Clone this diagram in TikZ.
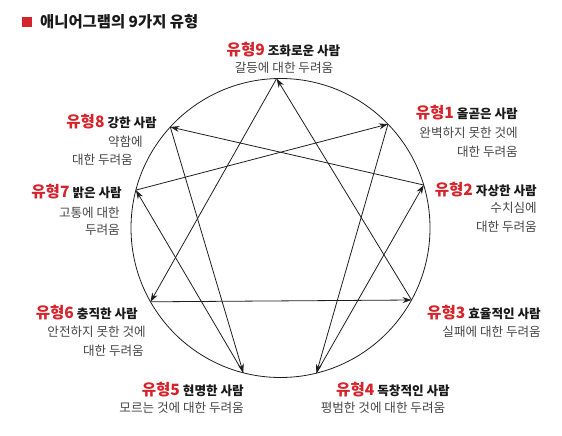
\documentclass[tikz,border=0pt]{standalone}
\usepackage{fontspec}
\setmainfont{Noto Sans CJK KR}
\usetikzlibrary{arrows.meta}

\definecolor{typered}{RGB}{214,36,44}
\definecolor{feargray}{RGB}{70,70,70}
\definecolor{linegray}{RGB}{30,30,30}
\newcommand{\typeno}[2]{{\fontsize{15.6}{18}\selectfont\color{typered}유형#1}\hspace{3pt}#2}

\begin{document}
\begin{tikzpicture}[x=1pt,y=-1pt,
        head/.style={inner sep=0pt,font=\fontsize{12.6}{14}\selectfont\bfseries,text=black!90},
        fear/.style={inner sep=0pt,font=\fontsize{12.6}{14}\selectfont,text=feargray},
        pull/.style={draw=linegray,line width=0.8pt,-{Stealth[length=9pt,width=6pt]}}]
        \useasboundingbox (0,0) rectangle (562,436);
        \fill[typered] (22,17) rectangle (32,27);
        \node[head,anchor=west,font=\fontsize{15.4}{17}\selectfont\bfseries] at (40,22) (title) {애니어그램의 9가지 유형};
        \draw[linegray, line width=0.8pt] (280.5,228) circle (149.5);
        % points on the circle
        \coordinate (t9) at (276.6,78.6);
        \coordinate (t1) at (388.0,124.1);
        \coordinate (t2) at (423.7,185.0);
        \coordinate (t3) at (411.5,300.0);
        \coordinate (t4) at (316.4,373.1);
        \coordinate (t5) at (243.3,372.8);
        \coordinate (t6) at (150.5,301.8);
        \coordinate (t7) at (135.9,190.1);
        \coordinate (t8) at (170.3,127.0);
        \path
        (t9) edge [pull] (t6)
        (t6) edge [pull] (t3)
        (t3) edge [pull] (t9)
        (t1) edge [pull] (t4)
        (t4) edge [pull] (t2)
        (t2) edge [pull] (t8)
        (t8) edge [pull] (t5)
        (t5) edge [pull] (t7)
        (t7) edge [pull] (t1)
        ;
        % labels
        \node[head] at (283.5,50) (t9a) {\typeno{9}{조화로운 사람}};
        \node[fear] at (284,68) (t9b) {갈등에 대한 두려움};
        \node[head,anchor=east] at (518,113) (t1a) {\typeno{1}{올곧은 사람}};
        \node[fear,anchor=east] at (518,133) (t1b) {완벽하지 못한 것에};
        \node[fear,anchor=east] at (518,152) (t1c) {대한 두려움};
        \node[head,anchor=east] at (537,190) (t2a) {\typeno{2}{자상한 사람}};
        \node[fear,anchor=east] at (537,208) (t2b) {수치심에};
        \node[fear,anchor=east] at (537,227) (t2c) {대한 두려움};
        \node[head,anchor=east] at (541,313) (t3a) {\typeno{3}{효율적인 사람}};
        \node[fear,anchor=east] at (541,332) (t3b) {실패에 대한 두려움};
        \node[head] at (393,390) (t4a) {\typeno{4}{독창적인 사람}};
        \node[fear] at (383,408) (t4b) {평범한 것에 대한 두려움};
        \node[head,anchor=east] at (244,390) (t5a) {\typeno{5}{현명한 사람}};
        \node[fear,anchor=east] at (244,408) (t5b) {모르는 것에 대한 두려움};
        \node[head,anchor=east] at (138,313) (t6a) {\typeno{6}{충직한 사람}};
        \node[fear,anchor=east] at (146,332) (t6b) {안전하지 못한 것에};
        \node[fear,anchor=east] at (144,351) (t6c) {대한 두려움};
        \node[head,anchor=east] at (122,192) (t7a) {\typeno{7}{밝은 사람}};
        \node[fear,anchor=east] at (120,213) (t7b) {고통에 대한};
        \node[fear,anchor=east] at (120,230) (t7c) {두려움};
        \node[head,anchor=east] at (157,122) (t8a) {\typeno{8}{강한 사람}};
        \node[fear,anchor=east] at (143,142) (t8b) {약함에};
        \node[fear,anchor=east] at (133,160) (t8c) {대한 두려움};
    \end{tikzpicture}
\end{document}
